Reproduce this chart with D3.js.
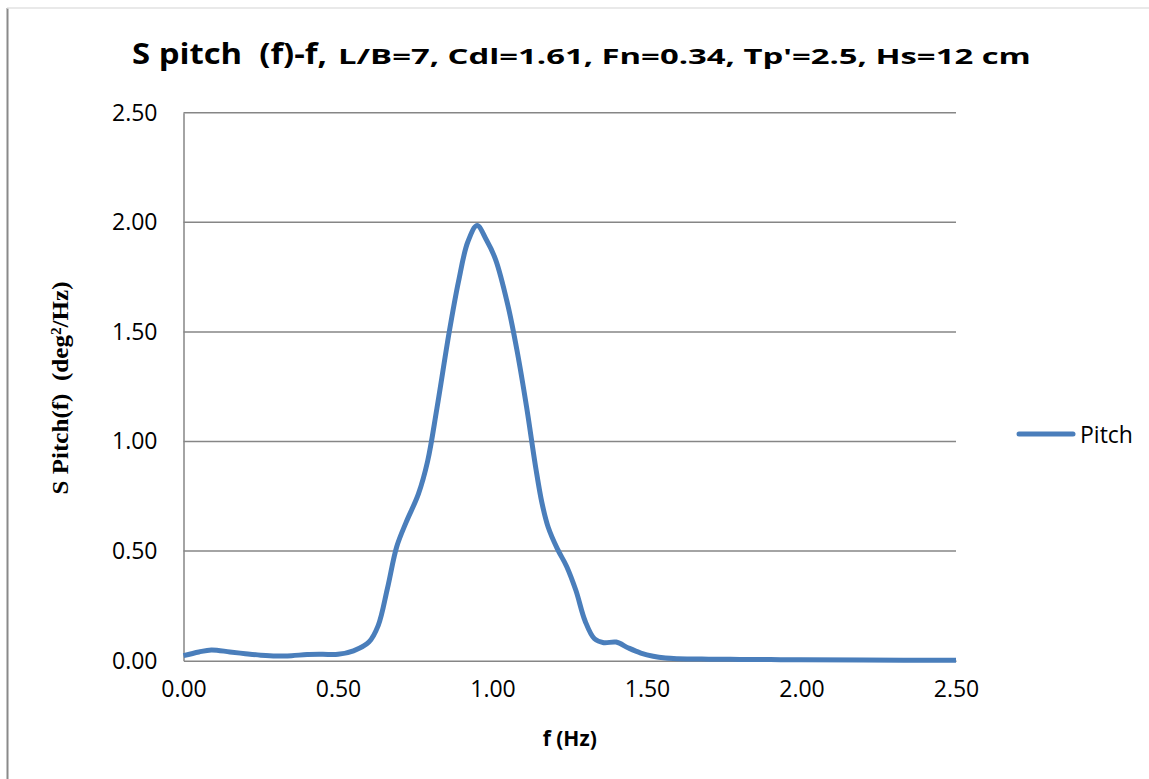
<!DOCTYPE html>
<html>
<head>
<meta charset="utf-8">
<script src="https://cdn.jsdelivr.net/npm/d3@7"></script>
<style>
  html, body { margin: 0; padding: 0; background: #fff; }
  svg { display: block; }
  .tick-label { font-family: "Open Sans", sans-serif; font-size: 23px; fill: #000; }
</style>
</head>
<body>
<svg id="chart" width="1149" height="779"></svg>
<script>
// frequency (Hz) and pitch spectral density (deg^2/Hz)
const freq = [0.00, 0.05, 0.09, 0.15, 0.20, 0.25, 0.30, 0.35, 0.40, 0.45, 0.50, 0.55, 0.60, 0.63,
  0.66, 0.69, 0.72, 0.76, 0.79, 0.82, 0.86, 0.89, 0.92, 0.95, 0.98, 1.01, 1.05, 1.08, 1.11, 1.14,
  1.16, 1.18, 1.21, 1.24, 1.27, 1.30, 1.33, 1.36, 1.40, 1.44, 1.48, 1.52, 1.56, 1.60, 1.70, 1.80,
  1.90, 2.00, 2.20, 2.50];
const pitch = [0.023, 0.040, 0.049, 0.040, 0.032, 0.025, 0.021, 0.023, 0.028, 0.029, 0.029, 0.045, 0.085, 0.16,
  0.33, 0.52, 0.63, 0.76, 0.91, 1.15, 1.50, 1.73, 1.91, 1.985, 1.92, 1.83, 1.62, 1.41, 1.16, 0.88,
  0.72, 0.61, 0.51, 0.43, 0.32, 0.18, 0.10, 0.082, 0.085, 0.058, 0.035, 0.020, 0.012, 0.009, 0.007, 0.006,
  0.005, 0.004, 0.003, 0.002];
const xTicks = [0, 0.5, 1.0, 1.5, 2.0, 2.5];
const yTicks = [0, 0.5, 1.0, 1.5, 2.0, 2.5];
const seriesName = "Pitch";

const LINE_COLOR = "#4A7EBB";
const GRID_COLOR = "#868686";
const plot = { left: 183.5, right: 956, top: 112.7, bottom: 660.7 };

const svg = d3.select("#chart");

// outer chart frame (left + top edges visible in the crop)
svg.append("line").attr("x1", 7.5).attr("x2", 7.5).attr("y1", 8).attr("y2", 779)
  .attr("stroke", "#8a8a8a").attr("stroke-width", 2);
svg.append("line").attr("x1", 7).attr("x2", 1149).attr("y1", 8).attr("y2", 8)
  .attr("stroke", "#e2e2e2").attr("stroke-width", 1.5);

const x = d3.scaleLinear().domain([0, 2.5]).range([plot.left, plot.right]);
const y = d3.scaleLinear().domain([0, 2.5]).range([plot.bottom, plot.top]);

// horizontal gridlines
svg.append("g")
  .selectAll("line")
  .data(yTicks.filter(d => d > 0))
  .join("line")
  .attr("x1", plot.left).attr("x2", plot.right)
  .attr("y1", d => y(d)).attr("y2", d => y(d))
  .attr("stroke", GRID_COLOR).attr("stroke-width", 1.5);

// y axis
const yAxis = svg.append("g")
  .attr("transform", `translate(${plot.left},0)`)
  .call(d3.axisLeft(y).tickValues(yTicks).tickFormat(d3.format(".2f")).tickSize(0).tickPadding(26));
yAxis.select(".domain").attr("stroke", GRID_COLOR).attr("stroke-width", 1.5);
yAxis.selectAll("text").attr("class", "tick-label").attr("font-size", null).attr("font-family", null);

// x axis
const xAxis = svg.append("g")
  .attr("transform", `translate(0,${plot.bottom})`)
  .call(d3.axisBottom(x).tickValues(xTicks).tickFormat(d3.format(".2f")).tickSize(0).tickPadding(20));
xAxis.select(".domain").attr("stroke", GRID_COLOR).attr("stroke-width", 1.5);
xAxis.selectAll("text").attr("class", "tick-label").attr("font-size", null).attr("font-family", null);

// data line
const pts = freq.map((f, i) => ({ f, v: pitch[i] }));
const line = d3.line()
  .x(d => x(d.f))
  .y(d => y(d.v))
  .curve(d3.curveCatmullRom.alpha(0.5));
svg.append("path")
  .datum(pts)
  .attr("fill", "none")
  .attr("stroke", LINE_COLOR)
  .attr("stroke-width", 5)
  .attr("stroke-linejoin", "round")
  .attr("d", line);

// title: glyphs stretched sideways to match the wide look of the original
function stretchedText(str, x0, y0, size, width) {
  const t = svg.append("text")
    .attr("font-family", "'Open Sans', sans-serif").attr("font-weight", 700).attr("font-size", size)
    .style("white-space", "pre")
    .text(str);
  const w = t.node().getComputedTextLength();
  t.attr("transform", `translate(${x0},${y0}) scale(${width / w},1)`);
  return t;
}
stretchedText("S pitch  (f)-f,", 132, 64, 28, 195);
stretchedText("L/B=7, Cdl=1.61, Fn=0.34, Tp'=2.5, Hs=12 cm", 338, 64, 21, 693);

// axis titles
svg.append("text")
  .attr("x", (plot.left + plot.right) / 2).attr("y", 746)
  .attr("text-anchor", "middle")
  .attr("font-family", "'Open Sans', sans-serif").attr("font-weight", 700).attr("font-size", 21)
  .text("f (Hz)");

const yt = svg.append("text")
  .attr("transform", "translate(68,388) rotate(-90)")
  .attr("text-anchor", "middle")
  .attr("font-family", "'Liberation Serif', 'Times New Roman', serif").attr("font-weight", 700).attr("font-size", 23)
  .attr("textLength", 213).attr("lengthAdjust", "spacingAndGlyphs")
  .style("white-space", "pre");
yt.append("tspan").text("S Pitch(f)  (deg");
yt.append("tspan").attr("baseline-shift", "super").attr("font-size", 14).text("2");
yt.append("tspan").text("/Hz)");

// legend
const lg = svg.append("g").attr("transform", "translate(1019,434)");
lg.append("line").attr("x1", 0).attr("x2", 54).attr("y1", 0).attr("y2", 0)
  .attr("stroke", LINE_COLOR).attr("stroke-width", 5).attr("stroke-linecap", "round");
lg.append("text").attr("x", 61).attr("y", 8.5)
  .attr("class", "tick-label")
  .text(seriesName);
</script>
</body>
</html>
